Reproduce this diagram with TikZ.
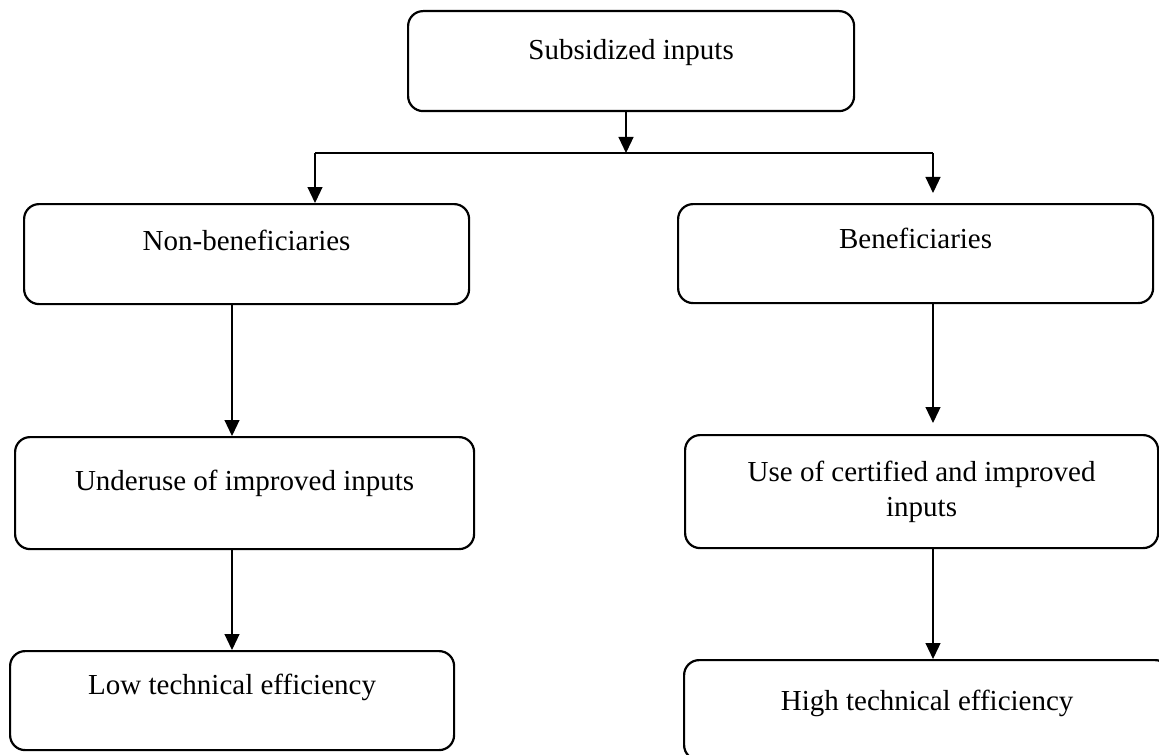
\documentclass[tikz,border=0pt]{standalone}
\usepackage{fontspec}
\setmainfont{Liberation Serif}
\usetikzlibrary{arrows.meta}
\tikzset{fl/.style={x=.5pt,y=-.5pt,line width=.6pt,font=\fontsize{14.5}{17.5}\selectfont},
  bx/.style={draw,line width=1.1pt,rounded corners=7.5pt,anchor=north west,inner sep=0pt,align=center},
  ar/.style={-{Triangle[length=8pt,width=7.5pt]}}}

\begin{document}
\begin{tikzpicture}[fl]
  \useasboundingbox (0,0) rectangle (1159,754);
  \node[bx,minimum width=223pt,text height=24.25pt,text depth=25.75pt] (sub) at (407,10) {Subsidized inputs};
  \node[bx,minimum width=222.5pt,text height=23.25pt,text depth=26.75pt] (nonben) at (23,203) {Non-beneficiaries};
  \node[bx,minimum width=237.5pt,text height=22pt,text depth=27.5pt] (ben) at (677,203) {Beneficiaries};
  \node[bx,minimum width=229.5pt,text height=26.75pt,text depth=29.25pt] (under) at (14,436) {Underuse of improved inputs};
  \node[bx,minimum width=236.5pt,minimum height=56.5pt] (use) at (684,434) {Use of certified and improved\\inputs};
  \node[bx,minimum width=222pt,text height=21.75pt,text depth=27.75pt] (low) at (9,650) {Low technical efficiency};
  \node[bx,minimum width=243pt,text height=25.25pt,text depth=24.75pt] (high) at (683,659) {High technical efficiency};
  \coordinate (sl) at (315,153);
  \coordinate (sr) at (933,153);
  \coordinate (sm) at (626,153);
  \coordinate (cl) at (232,0);
  \coordinate (cr) at (933,0);
  \draw[ar] (sub.south -| sm) -- (sm);
  \draw (sl) -- (sr);
  \draw[ar] (sl) -- (sl |- nonben.north);
  \draw[ar,shorten >=5pt] (sr) -- (sr |- ben.north);
  \draw[ar] (nonben.south -| cl) -- (under.north -| cl);
  \draw[ar] (under.south -| cl) -- (low.north -| cl);
  \draw[ar,shorten >=5.5pt] (ben.south -| cr) -- (use.north -| cr);
  \draw[ar] (use.south -| cr) -- (high.north -| cr);
\end{tikzpicture}
\end{document}
